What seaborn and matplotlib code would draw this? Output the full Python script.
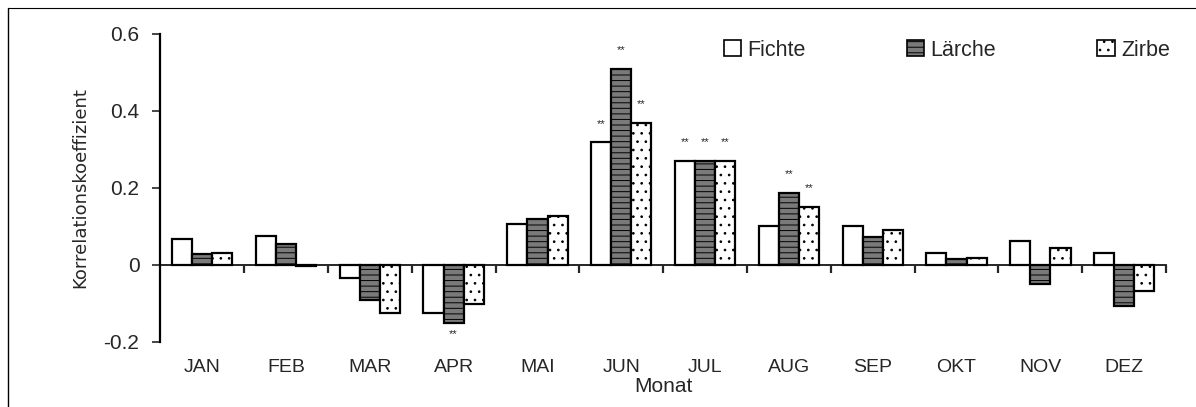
import pandas as pd
import seaborn as sns
import matplotlib.pyplot as plt
from matplotlib.lines import Line2D

# Monthly correlation coefficients per tree species
months = ['JAN', 'FEB', 'MAR', 'APR', 'MAI', 'JUN', 'JUL', 'AUG', 'SEP', 'OKT', 'NOV', 'DEZ']
species = ['Fichte', 'Lärche', 'Zirbe']
fichte = [0.068, 0.074, -0.034, -0.125, 0.106, 0.319, 0.270, 0.101, 0.101, 0.030, 0.062, 0.032]
laerche = [0.029, 0.055, -0.091, -0.151, 0.120, 0.509, 0.270, 0.187, 0.073, 0.015, -0.049, -0.106]
zirbe = [0.031, -0.003, -0.125, -0.101, 0.127, 0.369, 0.270, 0.151, 0.091, 0.018, 0.044, -0.069]
# significance markers (species, month)
signif = [('Lärche', 'APR'), ('Fichte', 'JUN'), ('Lärche', 'JUN'), ('Zirbe', 'JUN'),
          ('Fichte', 'JUL'), ('Lärche', 'JUL'), ('Zirbe', 'JUL'),
          ('Lärche', 'AUG'), ('Zirbe', 'AUG')]

df = pd.DataFrame({
    'Monat': months * 3,
    'Art': [s for s in species for _ in months],
    'r': fichte + laerche + zirbe,
})

sns.set_style('white')
plt.rcParams['font.family'] = ['Liberation Sans', 'DejaVu Sans']
plt.rcParams['hatch.linewidth'] = 0.7

fig = plt.figure(figsize=(11.96, 4.07), dpi=100)
ax = fig.add_axes([0.134, 0.16, 0.841, 0.7565])

palette = {'Fichte': 'white', 'Lärche': '#7a7a7a', 'Zirbe': 'white'}
sns.barplot(data=df, x='Monat', y='r', hue='Art', palette=palette, order=months,
            hue_order=species, width=0.72, gap=0, edgecolor='black', linewidth=1.6,
            saturation=1, legend=False, ax=ax)

hatches = {'Fichte': '', 'Lärche': '---', 'Zirbe': '..'}
for cont, sp in zip(ax.containers, species):
    for bar, m in zip(cont, months):
        bar.set_hatch(hatches[sp])
        if (sp, m) in signif:
            x = bar.get_x() + bar.get_width() / 2
            h = bar.get_height()
            if h >= 0:
                ax.text(x, h + 0.035, '**', ha='center', va='bottom', fontsize=8)
            else:
                ax.text(x, h - 0.015, '**', ha='center', va='top', fontsize=8)

ax.set_xlim(-0.5, 11.5)
ax.set_ylim(-0.2, 0.6)
ax.set_yticks([-0.2, 0, 0.2, 0.4, 0.6])
ax.set_yticklabels(['-0.2', '0', '0.2', '0.4', '0.6'])
ax.tick_params(axis='y', direction='out', length=6, width=1.2, labelsize=15, pad=9, left=True)
ax.tick_params(axis='x', length=0, labelsize=14, pad=12)

for s in ['top', 'right', 'bottom']:
    ax.spines[s].set_visible(False)
ax.spines['left'].set_linewidth(1.6)
ax.spines['left'].set_color('black')

# zero line with tick marks between the months
sec = ax.secondary_xaxis(0.25)
sec.set_xticks([i + 0.5 for i in range(12)])
sec.set_xticklabels([])
sec.tick_params(direction='out', length=6, width=1.6)
sec.spines['bottom'].set_linewidth(1.4)

ax.set_xlabel('Monat', fontsize=15, labelpad=1)
ax.set_ylabel('Korrelationskoeffizient', fontsize=13, labelpad=10,
              family=['Liberation Sans Narrow', 'DejaVu Sans'])

handles = [plt.Rectangle((0, 0), 1, 1, facecolor=palette[s], edgecolor='black',
                         hatch=hatches[s], linewidth=1.2) for s in species]
ax.legend(handles, species, loc='upper right', bbox_to_anchor=(1.023, 1.045), ncol=3,
          frameon=False, fontsize=15.5, handlelength=0.8, handleheight=0.8,
          handletextpad=0.3, columnspacing=4.7)

# frame of the scanned figure
fig.add_artist(Line2D([0.007, 0.007], [0.0, 0.98], color='black', lw=1))
fig.add_artist(Line2D([0.007, 1.0], [0.98, 0.98], color='black', lw=0.8))

fig.savefig('out.png', dpi=100)
